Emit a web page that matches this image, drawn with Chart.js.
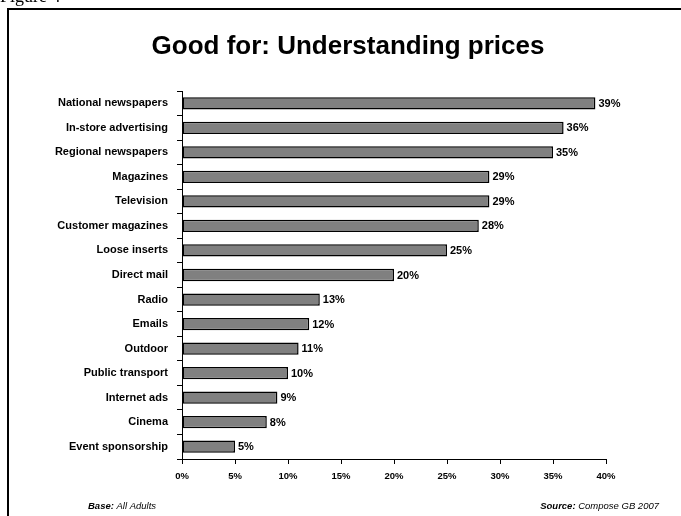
<!DOCTYPE html>
<html>
<head>
<meta charset="utf-8">
<style>
  html, body { margin: 0; padding: 0; background: #fff; }
  #wrap { position: relative; width: 681px; height: 516px; }
</style>
<script src="https://cdn.jsdelivr.net/npm/chart.js@4/dist/chart.umd.min.js"></script>
</head>
<body>
<div id="wrap"><canvas id="c" width="681" height="516"></canvas></div>
<script>
const categories = [
  'National newspapers', 'In-store advertising', 'Regional newspapers', 'Magazines',
  'Television', 'Customer magazines', 'Loose inserts', 'Direct mail', 'Radio', 'Emails',
  'Outdoor', 'Public transport', 'Internet ads', 'Cinema', 'Event sponsorship'
];
const shares = [39, 36, 35, 29, 29, 28, 25, 20, 13, 12, 11, 10, 9, 8, 5];
const xTicks = [0, 5, 10, 15, 20, 25, 30, 35, 40];

const FONT = 'Arial, "Liberation Sans", Helvetica, sans-serif';

// Page decoration: figure caption, frame, title and footer notes
const pageDecor = {
  id: 'pageDecor',
  beforeDraw(chart) {
    const ctx = chart.ctx;
    ctx.save();
    ctx.fillStyle = '#fff';
    ctx.fillRect(0, 0, chart.width, chart.height);
    ctx.fillStyle = '#000';
    ctx.font = '18px "Liberation Serif", "Times New Roman", serif';
    ctx.textAlign = 'left';
    ctx.textBaseline = 'alphabetic';
    ctx.fillText('Figure 4', 0, 2);
    ctx.strokeStyle = '#000';
    ctx.lineWidth = 2;
    ctx.beginPath();
    ctx.moveTo(8, chart.height);
    ctx.lineTo(8, 9);
    ctx.lineTo(chart.width, 9);
    ctx.stroke();
    ctx.restore();
  },
  afterDraw(chart) {
    const ctx = chart.ctx;
    ctx.save();
    ctx.fillStyle = '#000';
    ctx.textBaseline = 'middle';
    ctx.textAlign = 'center';
    ctx.font = 'bold 26px ' + FONT;
    ctx.fillText('Good for: Understanding prices', 348, 47);

    const footSize = '9.5px ';
    ctx.textAlign = 'left';
    ctx.font = 'bold italic ' + footSize + FONT;
    const b = 'Base:';
    ctx.fillText(b, 88, 506);
    const w = ctx.measureText(b).width;
    ctx.font = 'italic ' + footSize + FONT;
    ctx.fillText(' All Adults', 88 + w, 506);

    const s1 = 'Source:', s2 = ' Compose GB 2007';
    ctx.font = 'italic ' + footSize + FONT;
    const w2 = ctx.measureText(s2).width;
    ctx.font = 'bold italic ' + footSize + FONT;
    const w1 = ctx.measureText(s1).width;
    const x0 = 659 - w1 - w2;
    ctx.fillText(s1, x0, 506);
    ctx.font = 'italic ' + footSize + FONT;
    ctx.fillText(s2, x0 + w1, 506);
    ctx.restore();
  }
};

// Value labels at the end of each bar
const valueLabels = {
  id: 'valueLabels',
  afterDatasetsDraw(chart) {
    const ctx = chart.ctx;
    const meta = chart.getDatasetMeta(0);
    ctx.save();
    ctx.fillStyle = '#000';
    ctx.font = 'bold 11px ' + FONT;
    ctx.textAlign = 'left';
    ctx.textBaseline = 'middle';
    meta.data.forEach((bar, i) => {
      ctx.fillText(shares[i] + '%', bar.x + 3, bar.y + 0.5);
    });
    ctx.restore();
  }
};

new Chart(document.getElementById('c'), {
  type: 'bar',
  data: {
    labels: categories,
    datasets: [{
      data: shares,
      backgroundColor: '#808080',
      borderColor: '#000',
      borderWidth: 1.5,
      borderSkipped: false,
      barPercentage: 0.5,
      categoryPercentage: 1
    }]
  },
  options: {
    indexAxis: 'y',
    responsive: false,
    animation: false,
    devicePixelRatio: 1,
    layout: { padding: { left: 0, top: 91, right: 75, bottom: 37 } },
    plugins: { legend: { display: false }, tooltip: { enabled: false }, title: { display: false } },
    scales: {
      x: {
        min: 0, max: 40,
        afterFit(scale) { scale.height = 20; },
        afterBuildTicks(scale) { scale.ticks = xTicks.map(v => ({ value: v })); },
        grid: { drawOnChartArea: false, drawTicks: true, tickLength: 5, tickColor: '#000', lineWidth: 1 },
        border: { display: true, color: '#000', width: 1 },
        ticks: {
          color: '#000', padding: 7, maxRotation: 0,
          font: { family: FONT, size: 9.5, weight: 'bold' },
          callback: v => v + '%'
        }
      },
      y: {
        afterFit(scale) { scale.width = 182; },
        grid: { drawOnChartArea: false, drawTicks: true, tickLength: 5, tickColor: '#000', offset: true },
        border: { display: true, color: '#000', width: 1 },
        ticks: {
          color: '#000', padding: 9, autoSkip: false,
          font: { family: FONT, size: 11, weight: 'bold' }
        }
      }
    }
  },
  plugins: [pageDecor, valueLabels]
});
</script>
</body>
</html>
